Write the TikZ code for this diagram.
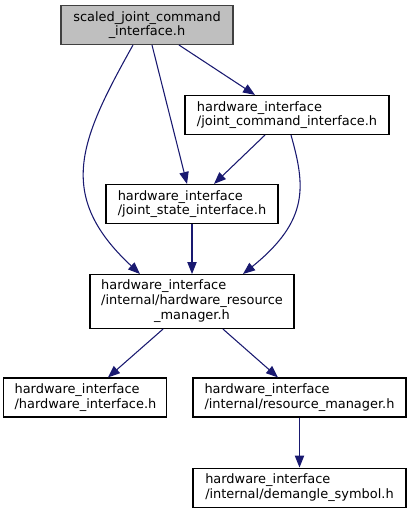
\documentclass[tikz,border=0pt]{standalone}
\usepackage{fontspec}
\setmainfont{DejaVu Sans}
\usetikzlibrary{arrows.meta, positioning, calc}
\definecolor{edgeblue}{HTML}{191970}
\definecolor{nodegray}{HTML}{BFBFBF}
\definecolor{bordergray}{HTML}{404040}

\begin{document}
\begin{tikzpicture}[x=0.75pt, y=-0.75pt]

    % --- Styles ---
    \tikzset{
        header/.style={rectangle, draw=black, fill=white, line width=0.8pt, minimum height=29.25pt, inner sep=2pt, font=\fontsize{9.7}{10.9}\selectfont, align=left},
        current/.style={header, draw=bordergray, fill=nodegray, align=center},
        arrow/.style={draw=edgeblue, line width=0.8pt, -{Triangle[length=9pt, width=7pt]}}
    }

    \useasboundingbox (0,0) rectangle (411,513);

    % --- Nodes ---
    \node (sjci) [current, minimum width=129pt] at (147,25) {scaled\_joint\_command\\\_interface.h};
    \node (jci) [header, minimum width=153pt] at (287,115) {hardware\_interface\\/joint\_command\_interface.h};
    \node (jsi) [header, minimum width=129pt] at (192,204) {hardware\_interface\\/joint\_state\_interface.h};
    \node (hrm) [header, minimum width=153pt, minimum height=40.5pt, below=37.5pt of jsi] {%
        \begin{tabular}{@{}l@{}}
            hardware\_interface\\
            /internal/hardware\_resource\\
            \multicolumn{1}{@{}c@{}}{\_manager.h}
        \end{tabular}};
    \node (rm) [header, minimum width=159.75pt] at (299.5,397.5) {hardware\_interface\\/internal/resource\_manager.h};
    \node (hi) [header, minimum width=122.25pt, left=18.75pt of rm] {hardware\_interface\\/hardware\_interface.h};
    \node (ds) [header, minimum width=159.75pt, below=37.5pt of rm] {hardware\_interface\\/internal/demangle\_symbol.h};

    % --- Connections ---
    \draw [arrow] ($(sjci.south)+(32,0)$) -- ($(jci.north)+(-32,0)$);
    \draw [arrow] ($(sjci.south)+(5,0)$) -- ($(jsi.north)+(-5,0)$);
    \draw [arrow] ($(sjci.south)+(-14,0)$) .. controls +(-53,95) and +(-85,-79) .. ($(hrm.north)+(-52,0)$);
    \draw [arrow] ($(jci.south)+(-22,0)$) -- ($(jsi.north)+(22,0)$);
    \draw [arrow] ($(jci.south)+(4,0)$) .. controls +(14,50) and +(67,-54) .. ($(hrm.north)+(51,0)$);
    \draw [arrow] (jsi) -- (hrm);
    \draw [arrow] ($(hrm.south)+(-29,0)$) -- ($(hi.north)+(22.5,0)$);
    \draw [arrow] ($(hrm.south)+(31,0)$) -- ($(rm.north)+(-21.5,0)$);
    \draw [arrow] (rm) -- (ds);

\end{tikzpicture}
\end{document}
